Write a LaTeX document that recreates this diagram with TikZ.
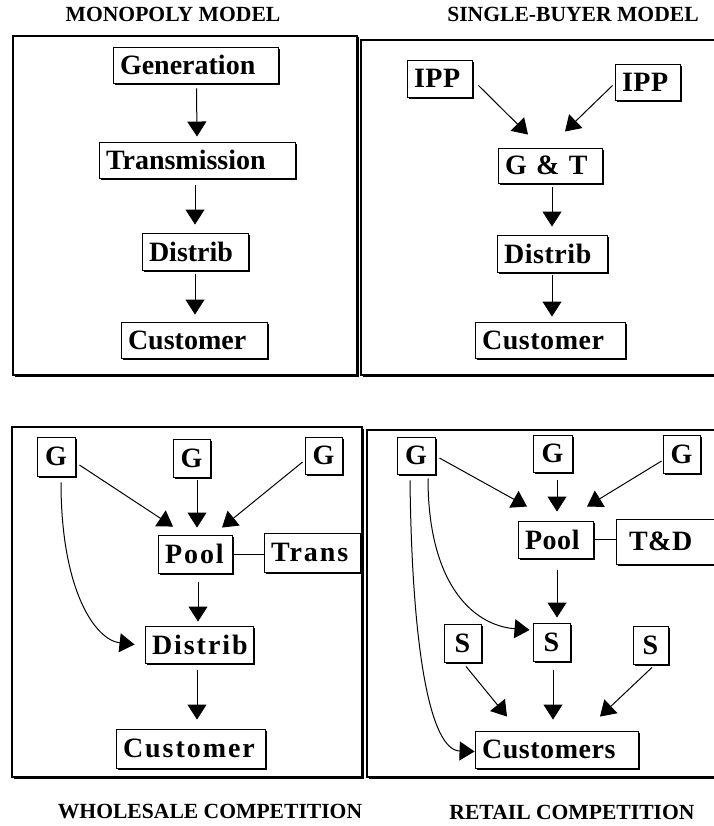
\documentclass[tikz,border=0pt]{standalone}
\usepackage{fontspec}
\setmainfont{Liberation Serif}
\newfontfamily\widefont[LetterSpace=7]{Liberation Serif}
\newfontfamily\semifont[LetterSpace=2]{Liberation Serif}
\usetikzlibrary{arrows.meta,calc,shadows}
\newcommand\bx[7][]{%
  \pgfmathsetmacro\bxw{#5-#3}\pgfmathsetmacro\bxh{#6-#4}\pgfmathsetmacro\bxt{#5-#3-14}%
  \node[box,minimum width=\bxw pt,minimum height=\bxh pt,text width=\bxt pt,align=left,#1] (#2) at ({(#3+#5)/2},{(#4+#6)/2}) {#7};}
\begin{document}
\begin{tikzpicture}[x=1pt,y=-1pt,
  box/.style={draw, line width=0.9pt, fill=white, inner xsep=7pt, inner ysep=0pt,
    font=\bfseries\fontsize{28}{28}\selectfont,
    drop shadow={shadow xshift=1.8pt, shadow yshift=-1.8pt, opacity=1, fill=black}},
  wbox/.style={box, font=\widefont\bfseries\fontsize{28}{28}\selectfont},
  sbox/.style={box, font=\semifont\bfseries\fontsize{28}{28}\selectfont},
  arr/.style={line width=1pt, -{Triangle[width=19pt,length=15pt]}},
  frame/.style={draw, line width=1.3pt, fill=white,
    drop shadow={shadow xshift=1.5pt, shadow yshift=-1.5pt, opacity=1, fill=black}},
  title/.style={font=\bfseries\fontsize{21.6}{22}\selectfont, inner sep=0pt}]
\useasboundingbox[fill=white] (0,0) rectangle (713,826);

% titles
\node[title] (t1) at (173,14) {MONOPOLY MODEL};
\node[title] (t2) at (573,14) {SINGLE-BUYER MODEL};
\node[title] (t3) at (210,812) {WHOLESALE COMPETITION};
\node[title] (t4) at (572,812) {RETAIL COMPETITION};

% frames
\path[frame] (13,36) rectangle (357,375);
\draw[line width=2.5pt] (357,36) -- (357,376);
\path[frame] (361,40) rectangle (720,375);
\path[frame] (12,427) rectangle (362,777);
\draw[line width=2.5pt] (362,427) -- (362,778);
\path[frame] (367,430) rectangle (720,777);

% monopoly
\bx{mgen}{113}{47}{278}{83}{Generation}
\bx{mtrans}{99}{142}{295}{178}{Transmission}
\bx{mdist}{142}{233}{248}{270}{Distrib}
\bx{mcust}{121}{322}{267}{358}{Customer}
\draw[arr] ($(mgen.south)+(1,5)$) -- ($(mtrans.north)+(0,-5)$);
\draw[arr] ($(mtrans.south)+(-2,7)$) -- ($(mdist.north)+(0,-8)$);
\draw[arr] ($(mdist.south)+(0,4)$) -- ($(mcust.north)+(1,-7)$);

% single buyer
\bx[sbox]{sipp1}{407}{60}{472}{97}{IPP}
\bx[sbox]{sipp2}{615}{64}{680}{100}{IPP}
\bx[sbox]{sgt}{498}{148}{602}{183}{G \& T}
\bx[sbox]{sdist}{497}{235}{607}{272}{Distrib}
\bx[sbox]{scust}{475}{322}{625}{358}{Customer}
\draw[arr] ($(sipp1.south east)+(6,-12)$) -- ($(sgt.north)+(-22,-13)$);
\draw[arr] ($(sipp2.south west)+(-2,-15)$) -- ($(sgt.north)+(15,-16)$);
\draw[arr] ($(sgt.south)+(2,4)$) -- ($(sdist.north)+(0,-8)$);
\draw[arr] ($(sdist.south)+(0,3)$) -- ($(scust.north)+(2,-5)$);

% wholesale
\bx[wbox,align=center]{wg1}{37}{437}{75}{476}{G}
\bx[wbox,align=center]{wg2}{173}{439}{210}{477}{G}
\bx[wbox,align=center]{wg3}{305}{437}{342}{474}{G}
\bx[wbox]{wpool}{158}{535}{232}{573}{Pool}
\bx[wbox]{wtrans}{264}{533}{360}{572}{Trans}
\bx[wbox]{wdist}{145}{626}{253}{663}{Distrib}
\bx[wbox]{wcust}{116}{729}{265}{768}{Customer}
\draw[arr] ($(wg1.east)+(4,8.5)$) -- ($(wpool.north)+(-22,-8)$);
\draw[arr] ($(wg2.south)+(5.5,3)$) -- ($(wpool.north)+(2,-7)$);
\draw[arr] ($(wg3.west)+(-2,6.5)$) -- ($(wpool.north)+(27,-7)$);
\draw[line width=1pt] (wpool.east) -- (wpool.east -| wtrans.west);
\draw[arr] ($(wpool.south)+(3,9)$) -- ($(wdist.north)+(-1,-4)$);
\draw[arr] ($(wdist.south)+(-2,7)$) -- ($(wcust.north)+(6.5,-9)$);
\draw[arr] ($(wg1.south)+(5,6)$) .. controls (61,590) and (95,640) .. ($(wdist.west)+(-10,0)$);

% retail
\bx[sbox,align=center]{rg1}{397}{437}{435}{474}{G}
\bx[sbox,align=center]{rg2}{533}{435}{572}{472}{G}
\bx[sbox,align=center]{rg3}{663}{435}{700}{473}{G}
\bx[sbox]{rpool}{518}{521}{593}{558}{Pool}
\bx[sbox,inner xsep=13pt]{rtd}{622}{519}{730}{564}{T\&D}
\bx[sbox,align=center]{rs1}{444}{624}{481}{662}{S}
\bx[sbox,align=center]{rs2}{533}{623}{570}{661}{S}
\bx[sbox,align=center]{rs3}{633}{626}{668}{664}{S}
\bx[sbox]{rcust}{475}{731}{638}{768}{Customers}
\draw[arr] ($(rg1.east)+(4,2.5)$) -- ($(rpool.north)+(-28.5,-14)$);
\draw[arr] ($(rg2.south)+(4.5,8)$) -- ($(rpool.north)+(1.5,-9)$);
\draw[arr] ($(rg3.west)+(-1,7)$) -- ($(rpool.north)+(31.5,-14)$);
\draw[line width=1pt] (rpool.east) -- (rpool.east -| rtd.west);
\draw[arr] ($(rpool.south)+(1.5,12)$) -- ($(rs2.north)+(5.5,-5)$);
\draw[arr] ($(rg1.south)+(12,4)$) .. controls (428,580) and (470,625) .. ($(rs2.west)+(-3,-12)$);
\draw[arr] ($(rg1.south)+(-6,6)$) .. controls (412,650) and (430,750) .. ($(rcust.west)+(0,2)$);
\draw[arr] ($(rs1.south)+(3.5,4)$) -- ($(rcust.north)+(-49.5,-14)$);
\draw[arr] ($(rs2.south)+(1.5,9)$) -- ($(rcust.north)+(-3.5,-11)$);
\draw[arr] ($(rs3.south)+(1.5,3)$) -- ($(rcust.north)+(43.5,-14)$);
\end{tikzpicture}
\end{document}
